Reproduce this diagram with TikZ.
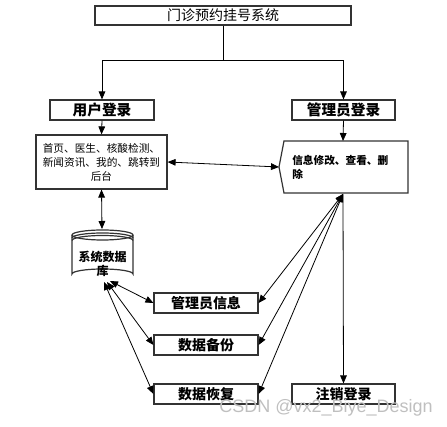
\documentclass[tikz,border=0pt]{standalone}
\usepackage{fontspec}
\setmainfont{Liberation Sans}
\newfontfamily\cjk{Noto Sans CJK SC}
\usetikzlibrary{arrows.meta}
\begin{document}
\begin{tikzpicture}[x=0.75pt,y=-0.75pt,
  box/.style={draw=black!80,line width=0.9pt,inner sep=0pt,font=\cjk\bfseries\fontsize{10.5pt}{12pt}\selectfont},
  arr/.style={-{Triangle[length=6pt,width=5pt]},line width=0.6pt},
  darr/.style={{Triangle[length=6pt,width=5pt]}-{Triangle[length=6pt,width=5pt]},line width=0.6pt}]
\useasboundingbox (0,0) rectangle (447,427);
% title
\node[box,font=\cjk\fontsize{10.5pt}{12pt}\selectfont,minimum width=256*0.75pt,minimum height=19*0.75pt] (title) at (223,15.5) {门诊预约挂号系统};
\node[box,font=\cjk\bfseries\fontsize{11pt}{12pt}\selectfont,minimum width=104*0.75pt,minimum height=20*0.75pt] (ulogin) at (102,110) {用户登录};
\node[box,font=\cjk\bfseries\fontsize{11pt}{12pt}\selectfont,minimum width=103*0.75pt,minimum height=20*0.75pt] (alogin) at (343.5,110) {管理员登录};
\node[box,font=\cjk\fontsize{8pt}{10.5pt}\selectfont,align=center,text width=126*0.75pt,minimum width=131*0.75pt,minimum height=54*0.75pt] (ucont) at (101.5,162) {首页、医生、核酸检测、\\新闻资讯、我的、跳转到\\后台};
% admin info pentagon
\coordinate (ainfoL) at (279,167);
\coordinate (ainfoT) at (343,141);
\coordinate (ainfoB) at (343,194);
\draw[line width=0.9pt,draw=black!80] (284,141) -- (408,141) -- (408,193) -- (284,193) -- (279,167) -- cycle;
\node[font=\cjk\bfseries\fontsize{8pt}{10.5pt}\selectfont,align=left,anchor=west,inner sep=0pt] (ainfo) at (292,167) {信息修改、查看、删\\除};
% database
\begin{scope}[line width=0.9pt,draw=black!80]
\draw (72,235) -- (72,274) arc[start angle=180,end angle=360,x radius=30.5,y radius=5] -- (133,235);
\draw (102.5,235) ellipse[x radius=30.5,y radius=5];
\draw (72,238) arc[start angle=180,end angle=360,x radius=30.5,y radius=5];
\draw (72,240.5) arc[start angle=180,end angle=360,x radius=30.5,y radius=5];
\end{scope}
\node[font=\cjk\bfseries\fontsize{9pt}{10.5pt}\selectfont,align=center,inner sep=0pt] (db) at (102.5,264) {系统数据\\库};
\coordinate (dbT) at (102,229);
% lower boxes
\node[box,minimum width=104*0.75pt,minimum height=20*0.75pt] (minfo) at (206,303) {管理员信息};
\node[box,minimum width=104*0.75pt,minimum height=20*0.75pt] (backup) at (206,345) {数据备份};
\node[box,minimum width=104*0.75pt,minimum height=20*0.75pt] (restore) at (206,394) {数据恢复};
\node[box,minimum width=103*0.75pt,minimum height=20*0.75pt] (logout) at (343.5,394) {注销登录};
% connectors
\coordinate (split) at (223,60);
\draw[line width=0.6pt] (title.south) -- (split);
\draw[arr] (split) -| (ulogin.north);
\draw[arr] (split) -| (alogin.north);
\draw[arr] (ulogin.south) -- (ucont.north);
\draw[arr] (alogin.south) -- (ainfoT);
\draw[darr] (ucont.east) -- (ainfoL);
\draw[darr] (ucont.south) -- (dbT);
\draw[darr] (ainfoB) -- (minfo.east);
\draw[darr] (ainfoB) -- (backup.east);
\draw[darr] (ainfoB) -- (restore.east);
\draw[arr] (ainfoB) -- (logout.north);
\coordinate (db1) at (110,281);
\coordinate (db2) at (107,282);
\coordinate (db3) at (104,282);
\draw[darr] (db1) -- (minfo.west);
\draw[darr] (db2) -- (backup.west);
\draw[darr] (db3) -- (restore.west);
% watermark
\node[font=\fontsize{13.5pt}{14pt}\selectfont,text=black!25,anchor=east,inner sep=0pt] (wm) at (433,408) {CSDN @vx2\_Biye\_Design};
\end{tikzpicture}
\end{document}
